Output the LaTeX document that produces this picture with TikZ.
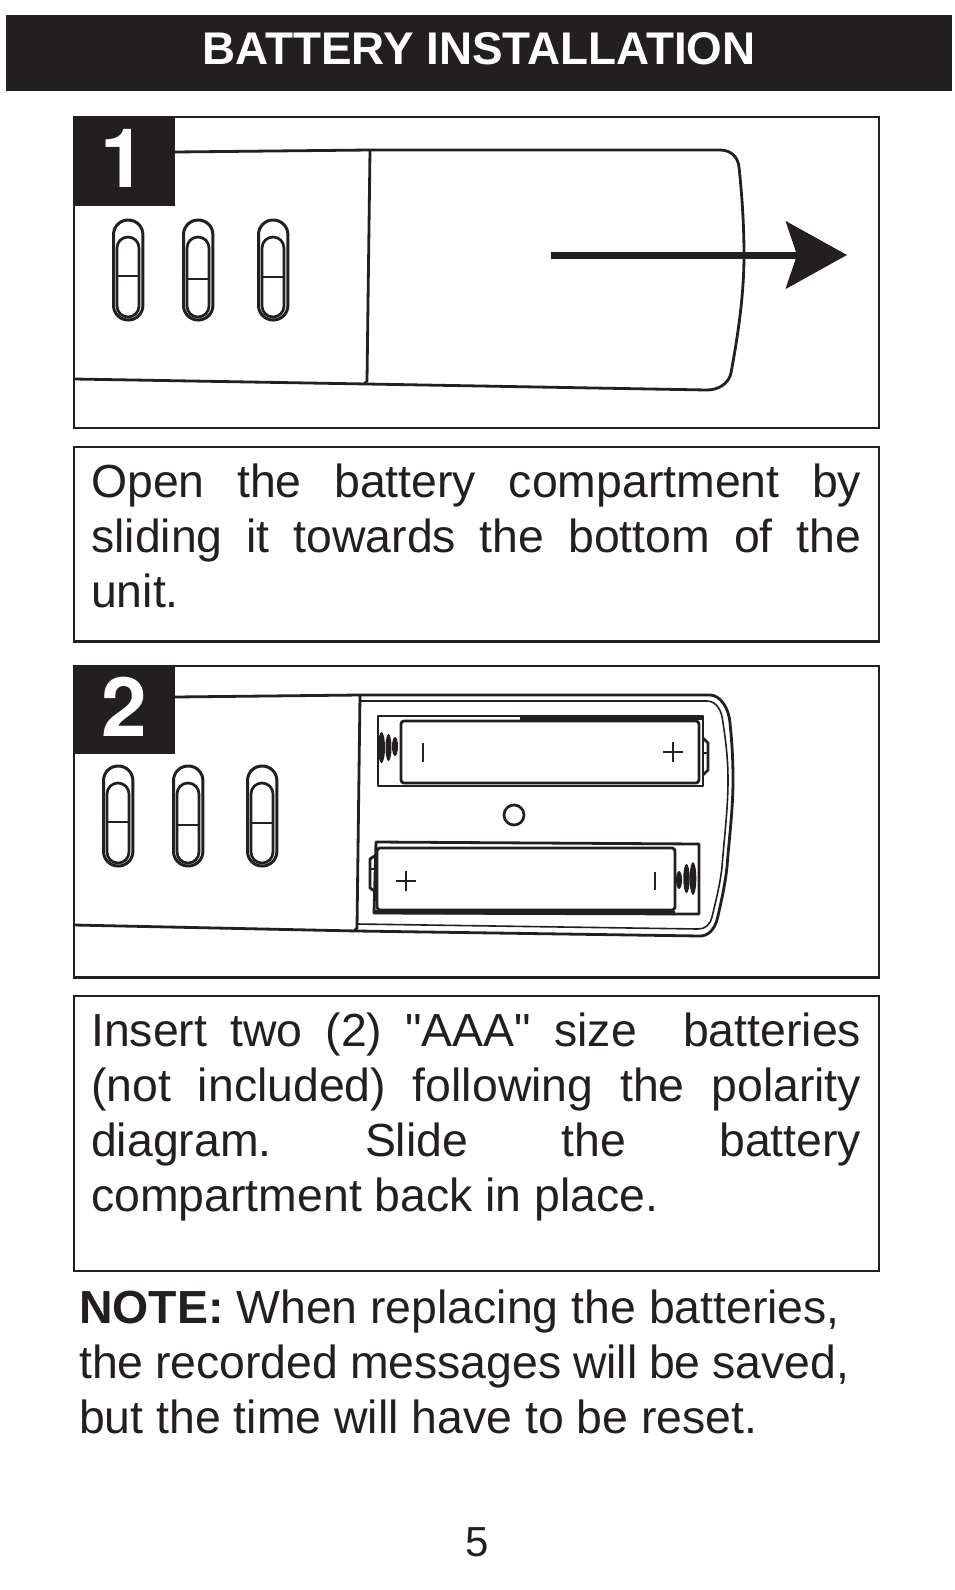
\documentclass[tikz,border=0pt]{standalone}
\usepackage{fontspec}
\setmainfont[Ligatures=TeXOff]{Liberation Sans}
\newfontfamily\numfont{TeX Gyre Heros}
\usetikzlibrary{arrows.meta}
\definecolor{inkblack}{HTML}{231F20}
\tikzset{
    framebox/.style={draw=inkblack,line width=2.8pt},
    bodyline/.style={draw=inkblack,line width=2.8pt,line join=round},
    thinline/.style={draw=inkblack,line width=1.6pt,line join=round},
    slotline/.style={draw=inkblack,line width=3pt,rounded corners=14.6pt},
    innerslot/.style={draw=inkblack,line width=2.7pt,rounded corners=10.9pt},
    manualtext/.style={anchor=north west,inner sep=0pt,text width=770pt,align=justify,text=inkblack,
        font=\frenchspacing\fontsize{46.4}{55}\selectfont},
    numlabel/.style={inner sep=0pt,text=white,font=\numfont\bfseries\fontsize{82}{82}\selectfont}
}
\begin{document}
\begin{tikzpicture}[x=1pt,y=-1pt]
    \useasboundingbox (0,0) rectangle (954,1590);
    \tolerance=10000 \hbadness=10000

    % Title bar
    \fill[inkblack] (6,15) rectangle (952,91);
    \node[inner sep=0pt,text=white,font=\bfseries\fontsize{45.8}{46}\selectfont] (title) at (479,49) {BATTERY INSTALLATION};

    % Frames
    \draw[framebox] (74,117) rectangle (879,428);
    \draw[framebox] (74,447) rectangle (879,641.5);
    \draw[framebox] (74,666) rectangle (879,977.5);
    \draw[framebox] (74,996) rectangle (879,1271);

    % Step 1 unit
    \draw[bodyline] (175,152) -- (370,150) -- (720,150)
        .. controls (732,150) and (738,158) .. (739,167)
        .. controls (742,195) and (744,225) .. (744,255)
        .. controls (744,295) and (738,335) .. (731,373)
        .. controls (729,383) and (719,390) .. (707,390)
        -- (367,384) -- (74,379);
    \draw[bodyline] (370,150) -- (367,381) -- (364,384);

    % Step 2 unit
    \draw[bodyline] (175,697) -- (360,695) -- (710,695)
        .. controls (720,695) and (729,708) .. (730,723)
        .. controls (732,742) and (733,760) .. (733,780)
        .. controls (733,810) and (729,840) .. (727,867)
        .. controls (725,885) and (721,903) .. (717,920)
        .. controls (714,930) and (708,936) .. (700,936)
        -- (357,931) -- (74,925);
    \draw[bodyline] (360,695) -- (357,928) -- (354,931);
    \draw[thinline] (360,701) -- (707,701)
        .. controls (716,701) and (722,710) .. (723,723)
        .. controls (726,742) and (728,760) .. (728,780)
        .. controls (728,810) and (724,840) .. (722,867)
        .. controls (720,885) and (716,900) .. (712,917)
        .. controls (710,925) and (705,929) .. (698,929)
        -- (357,924);

    % Sliders
    \foreach \sx/\stop/\smark in {112/219/276,182/219/279,257/219/277,
                                  102/765/822,172/765/825,246/765/823}
    {
        \draw[slotline] (\sx+1.5,\stop+1) rectangle ++(29.4,100);
        \draw[innerslot] (\sx+5,\stop+18) rectangle (\sx+27,\stop+98);
        \draw[draw=inkblack,line width=2.2pt] (\sx+5,\smark) -- (\sx+27,\smark);
    }

    % Number boxes
    \fill[inkblack] (74,117) rectangle (175,206);
    \node[numlabel] (numone) at (123,158) {1};
    \fill[inkblack] (74,666) rectangle (175,754);
    \node[numlabel] (numtwo) at (124,707) {2};

    % Slide arrow
    \coordinate (arrowstart) at (551,255);
    \coordinate (arrowend) at (847,255);
    \draw[inkblack,line width=7pt,-{Stealth[length=61pt,width=67pt,inset=11pt]}] (arrowstart) -- (arrowend);

    % Upper battery
    \draw[bodyline] (378,716) rectangle (703,786);
    \draw[inkblack,line width=3.5pt] (520,718) -- (703,718);
    \draw[bodyline,rounded corners=3pt] (401,721) rectangle (699,783);
    \draw[thinline] (423,743) -- (423,762);
    \draw[thinline] (663,752) -- (683,752);
    \draw[thinline] (673,742) -- (673,762);
    \fill[inkblack] (381.5,747.5) ellipse [x radius=3.5,y radius=15.5];
    \fill[inkblack] (388.5,747.5) ellipse [x radius=3,y radius=13.5];
    \fill[inkblack] (395,746.5) ellipse [x radius=3,y radius=9.5];
    \draw[bodyline] (703,738) -- (708,743) -- (708,770) -- (703,775);
    \draw[thinline] (703,753) -- (708,753);

    % Battery hole
    \node[circle,draw=inkblack,line width=2.7pt,minimum size=20pt,inner sep=0pt] (hole) at (514,815) {};

    % Lower battery
    \draw[bodyline] (376,842) -- (699,844) -- (699,914) -- (374,913) -- cycle;
    \draw[inkblack,line width=4pt] (374,912) -- (675,913);
    \draw[bodyline,rounded corners=3pt] (377,848) rectangle (675,910);
    \draw[thinline] (396,881) -- (416,881);
    \draw[thinline] (406,871) -- (406,891);
    \draw[thinline] (655,872) -- (655,890);
    \fill[inkblack] (679,880) ellipse [x radius=3,y radius=9];
    \fill[inkblack] (686.5,878.5) ellipse [x radius=3.2,y radius=14.5];
    \fill[inkblack] (693,878.5) ellipse [x radius=3.3,y radius=16.5];
    \draw[bodyline] (376,855) -- (370,859) -- (370,888) -- (376,892);
    \draw[thinline] (370,869) -- (376,869);

    % Text blocks
    \node[manualtext] (textone) at (91,464) {Open the battery compartment by\linebreak
        sliding it towards the bottom of the\linebreak unit.};
    \node[manualtext] (texttwo) at (91,1013) {Insert two (2) "AAA" size\ \ batteries\linebreak
        (not included) following the polarity\linebreak
        diagram. Slide the battery\linebreak compartment back in place.};
    \node[manualtext] (textnote) at (79,1290) {\textbf{NOTE:} When replacing the batteries,\hfill\null\linebreak
        the recorded messages will be saved,\hfill\null\linebreak
        but the time will have to be reset.};
    \node[inner sep=0pt,text=inkblack,font=\fontsize{42}{42}\selectfont] (pagenum) at (477,1542) {5};
\end{tikzpicture}
\end{document}
